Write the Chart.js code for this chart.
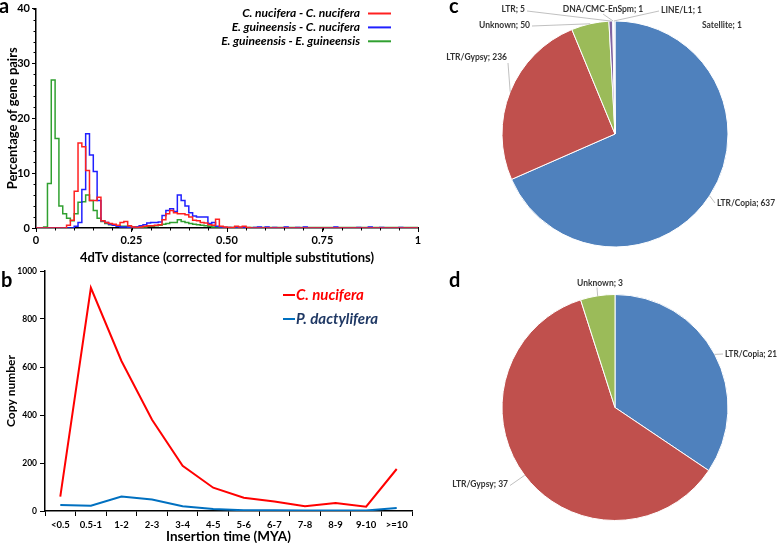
<!DOCTYPE html>
<html><head><meta charset="utf-8">
<script src="https://cdn.jsdelivr.net/npm/chart.js@4.4.1/dist/chart.umd.min.js"></script>
<style>
html,body{margin:0;padding:0;background:#fff;}
body{width:778px;height:543px;position:relative;overflow:hidden;font-family:Lato,'DejaVu Sans',sans-serif;}
canvas{position:absolute;}
.lt{position:absolute;font:bold 20px/20px Lato,sans-serif;color:#000;}
</style></head><body>
<canvas id="chartA" width="430" height="268" style="left:0;top:0"></canvas>
<canvas id="chartB" width="420" height="283" style="left:0;top:262px"></canvas>
<canvas id="chartC" width="338" height="268" style="left:440px;top:0"></canvas>
<canvas id="chartD" width="338" height="269" style="left:440px;top:274px"></canvas>
<div class="lt" style="left:-1px;top:-5px">a</div>
<div class="lt" style="left:1px;top:269px">b</div>
<div class="lt" style="left:449px;top:-5px">c</div>
<div class="lt" style="left:449px;top:269px">d</div>
<script>
// ---------- Panel a: 4dTv distance histograms (bin width 0.01) ----------
const BIN_WIDTH = 0.01;
const histSeriesNames = ['C. nucifera - C. nucifera', 'E. guineensis - C. nucifera', 'E. guineensis - E. guineensis'];
const ccValues = [
  0,0,0,0,0,0,0,0,0.5,1.4,
  6.7,15.5,14.8,10.5,5.0,5.0,5.6,1.3,1.0,0.8,
  0.7,0.5,1.0,1.2,0.4,0.2,0.1,0.2,0.3,0.4,
  0.4,0.5,0.6,1.5,2.6,3.2,2.8,2.6,2.6,2.4,
  2.0,1.4,1.3,1.0,0.9,0.6,0.5,1.6,0.3,0.2,
  0.1,0.1,0.3,0.2,0.3,0.1,0,0,0,0,
  0,0,0,0,0,0,0,0,0,0,
  0,0,0,0,0,0,0,0,0,0,
  0,0,0,0,0,0,0,0,0,0,
  0,0,0,0,0,0,0,0,0,0];
const ecValues = [
  0,0,0,0,0,0,0,0,0,0,
  0.3,1.0,7.0,17.2,13.3,10.3,5.0,1.3,1.0,0.7,
  0.5,0.3,0.2,0.2,0.1,0.1,0.2,0.4,0.6,0.9,
  1.0,1.0,1.1,2.3,3.2,3.5,3.0,6.0,5.0,4.0,
  2.8,2.2,2.0,2.0,2.0,0.8,1.0,0.3,0.2,0.1,
  0.1,0,0.2,0,0.1,0,0,0.1,0.2,0,
  0.2,0,0.1,0,0,0.2,0,0,0.1,0,
  0.2,0,0,0,0,0,0,0,0.2,0,
  0,0,0,0,0.1,0,0,0.2,0,0,
  0.1,0,0,0,0,0.1,0,0,0,0];
const eeValues = [
  0,0,0.2,8.1,27,16.3,4.0,2.6,1.8,1.3,
  2.6,4.7,4.8,6.0,5.0,3.2,1.8,1.2,0.8,0.6,
  0.5,0.4,0.3,0.3,0.2,0.2,0.2,0.2,0.2,0.3,
  0.3,0.4,0.5,0.7,0.8,1.0,1.0,1.5,1.2,1.0,
  0.8,0.7,0.6,0.5,0.4,0.3,0.2,0.2,0.1,0.1,
  0.1,0.1,0.1,0.1,0.1,0.1,0.1,0.1,0.1,0.1,
  0.1,0.1,0.1,0.1,0.1,0.1,0.1,0.1,0.1,0.1,
  0.1,0.1,0.1,0.1,0.1,0.1,0.1,0.1,0.1,0.1,
  0.1,0.1,0.1,0.1,0.1,0.1,0.1,0.1,0.1,0.1,
  0.1,0.1,0.1,0.1,0.1,0.1,0.1,0.1,0.1,0.1];
const histXTicks = [0, 0.25, 0.5, 0.75, 1];
const histXTickLabels = ['0', '0.25', '0.50', '0.75', '1'];
const histYTicks = [0, 10, 20, 30, 40];

// ---------- Panel b: insertion time ----------
const insertionCategories = ['<0.5','0.5-1','1-2','2-3','3-4','4-5','5-6','6-7','7-8','8-9','9-10','>=10'];
const cNuciferaCopies = [60,930,625,380,188,97,55,40,20,33,18,175];
const pDactyliferaCopies = [25,22,60,48,20,8,3,3,2,2,2,12];
const copyTicks = [0, 200, 400, 600, 800, 1000];

// ---------- Panels c, d: pies ----------
const pieCLabels = ['LTR/Copia','LTR/Gypsy','Unknown','LTR','DNA/CMC-EnSpm','LINE/L1','Satellite'];
const pieCValues = [637,236,50,5,1,1,1];
const pieDLabels = ['LTR/Copia','LTR/Gypsy','Unknown'];
const pieDValues = [21,37,3];

// ---------- styling ----------
Chart.defaults.font.family = 'Lato';
Chart.defaults.color = '#000';
const histColors = ['#FF2020', '#2020FF', '#30A030'];
const pieColors = ['#4F81BD','#C0504D','#9BBB59','#8064A2','#4BACC6','#F79646','#2C4D75'];

function toSteps(values){
  const pts = values.map((v,i)=>({x: i*BIN_WIDTH, y: v}));
  pts.push({x: 1, y: values[values.length-1]});
  return pts;
}

const minorTicksA = {
  id:'minorTicksA',
  afterDraw(chart){
    const {ctx, scales:{x,y}, chartArea:a} = chart;
    ctx.save(); ctx.strokeStyle='#000'; ctx.lineWidth=1;
    for(let k=0;k<=20;k++){
      const px = Math.round(x.getPixelForValue(k*0.05))+0.5;
      ctx.beginPath(); ctx.moveTo(px,a.bottom); ctx.lineTo(px,a.bottom+2.5); ctx.stroke();
    }
    for(let k=0;k<=20;k++){
      const py = Math.round(y.getPixelForValue(k*2))+0.5;
      ctx.beginPath(); ctx.moveTo(a.left,py); ctx.lineTo(a.left-2.5,py); ctx.stroke();
    }
    ctx.restore();
  }
};
const legendA = {
  id:'legendA',
  afterDraw(chart){
    const ctx = chart.ctx;
    ctx.save();
    ctx.font = 'italic bold 12px Lato'; ctx.textAlign='right'; ctx.textBaseline='middle';
    const widths = [127, 139, 152];
    chart.data.datasets.forEach((ds,i)=>{
      const yy = 13.5 + i*13.9;
      ctx.fillStyle = '#000';
      ctx.fillText(ds.label, 360, yy, widths[i]);
      ctx.strokeStyle = ds.borderColor; ctx.lineWidth = 2;
      ctx.beginPath(); ctx.moveTo(368, yy); ctx.lineTo(391, yy); ctx.stroke();
    });
    ctx.restore();
  }
};

new Chart(document.getElementById('chartA'), {
  type:'line',
  data:{ datasets:[ccValues, ecValues, eeValues].map((vals,i)=>({
    label: histSeriesNames[i], data: toSteps(vals), borderColor: histColors[i],
    borderWidth:1.5, stepped:'before', pointRadius:0, fill:false
  })) },
  options:{
    responsive:false, animation:false,
    layout:{padding:{top:4,right:12,left:0,bottom:2}},
    plugins:{legend:{display:false}, tooltip:{enabled:false}},
    scales:{
      x:{type:'linear', min:0, max:1,
        afterBuildTicks(s){ s.ticks = histXTicks.map(v=>({value:v})); },
        ticks:{callback:(v,i)=>histXTickLabels[i], font:{size:11,weight:'bold'}, color:'#000', maxRotation:0, padding:2},
        grid:{drawOnChartArea:false, tickLength:4, color:'#000', tickColor:'#000'},
        border:{color:'#000', width:1.5},
        title:{display:true, text:'4dTv distance (corrected for multiple substitutions)', font:{size:13,weight:'bold'}, color:'#000', padding:{top:0,bottom:0}},
        afterFit(s){ s.height = 38; }
      },
      y:{min:0, max:40,
        afterBuildTicks(s){ s.ticks = histYTicks.map(v=>({value:v})); },
        ticks:{font:{size:11,weight:'bold'}, color:'#000', padding:2},
        grid:{drawOnChartArea:false, tickLength:4, color:'#000', tickColor:'#000'},
        border:{color:'#000', width:1.5},
        title:{display:true, text:'Percentage of gene pairs', font:{size:13,weight:'bold'}, color:'#000', padding:{top:5,bottom:0}},
        afterFit(s){ s.width = 36; }
      }
    }
  },
  plugins:[minorTicksA, legendA]
});

// ---------- Panel b ----------
const legendB = {
  id:'legendB',
  afterDraw(chart){
    const ctx = chart.ctx;
    ctx.save();
    ctx.font = 'italic bold 15px Lato'; ctx.textAlign='left'; ctx.textBaseline='middle';
    const textColors = ['#FF0000', '#1F3864'];
    const widths = [72, 90];
    chart.data.datasets.forEach((ds,i)=>{
      const yy = 33 + i*24;
      ctx.strokeStyle = ds.borderColor; ctx.lineWidth = 2;
      ctx.beginPath(); ctx.moveTo(283, yy); ctx.lineTo(295, yy); ctx.stroke();
      ctx.fillStyle = textColors[i];
      ctx.fillText(ds.label, 296, yy, widths[i]);
    });
    ctx.restore();
  }
};
new Chart(document.getElementById('chartB'), {
  type:'line',
  data:{ labels: insertionCategories, datasets:[
    {label:'C. nucifera', data:cNuciferaCopies, borderColor:'#FF0000', borderWidth:2, pointRadius:0, tension:0},
    {label:'P. dactylifera', data:pDactyliferaCopies, borderColor:'#0070C0', borderWidth:2, pointRadius:0, tension:0}
  ]},
  options:{
    responsive:false, animation:false,
    layout:{padding:{top:9,right:8,left:0,bottom:0}},
    plugins:{legend:{display:false}, tooltip:{enabled:false}},
    scales:{
      x:{offset:true,
        ticks:{font:{size:9.5,weight:'bold'}, color:'#000', maxRotation:0, autoSkip:false, padding:3},
        grid:{offset:true, drawOnChartArea:false, tickLength:5, color:'#000', tickColor:'#000'},
        border:{color:'#000', width:1.5},
        title:{display:true, text:'Insertion time (MYA)', font:{size:13.5,weight:'bold'}, color:'#000', padding:{top:0,bottom:0}},
        afterFit(s){ s.height = 34; }
      },
      y:{min:0, max:1000,
        afterBuildTicks(s){ s.ticks = copyTicks.map(v=>({value:v})); },
        ticks:{callback:(v)=>String(v), font:{size:8.5,weight:'bold'}, color:'#000', padding:3},
        grid:{drawOnChartArea:false, tickLength:5, color:'#000', tickColor:'#000'},
        border:{color:'#000', width:1.5},
        title:{display:true, text:'Copy number', font:{size:12,weight:'bold'}, color:'#000', padding:{top:4,bottom:0}},
        afterFit(s){ s.width = 45; }
      }
    }
  },
  plugins:[legendB]
});

// ---------- Pies ----------
function pieLabelPlugin(layout){
  return {
    id:'pieLabels',
    afterDatasetsDraw(chart){
      const ctx = chart.ctx; const meta = chart.getDatasetMeta(0);
      ctx.save();
      ctx.font = 'bold 8.5px Lato'; ctx.fillStyle = '#333333'; ctx.textBaseline = 'middle';
      meta.data.forEach((arc,i)=>{
        const L = layout[i]; if(!L) return;
        const p = arc.getProps(['x','y','startAngle','endAngle','outerRadius'], true);
        const mid = (p.startAngle + p.endAngle)/2;
        if(L.lx !== undefined){
          ctx.strokeStyle = '#B0B0B0'; ctx.lineWidth = 0.8;
          ctx.beginPath();
          ctx.moveTo(p.x + p.outerRadius*Math.cos(mid), p.y + p.outerRadius*Math.sin(mid));
          ctx.lineTo(p.x + L.lx, p.y + L.ly); ctx.stroke();
        }
        ctx.textAlign = L.align;
        const txt = chart.data.labels[i] + '; ' + chart.data.datasets[0].data[i];
        if (L.w) ctx.fillText(txt, p.x + L.tx, p.y + L.ty, L.w);
        else ctx.fillText(txt, p.x + L.tx, p.y + L.ty);
      });
      ctx.restore();
    }
  };
}
const pieCLayout = [
  {tx:102, ty:69, align:'left', lx:100, ly:69, w:58},
  {tx:-108, ty:-77, align:'right', lx:-107, ly:-71},
  {tx:-85, ty:-109, align:'right', lx:-83, ly:-108},
  {tx:-90, ty:-125, align:'right', lx:-88, ly:-123},
  {tx:-12, ty:-125, align:'center', lx:-12, ly:-120},
  {tx:46, ty:-124, align:'left', lx:44, ly:-123},
  {tx:87, ty:-109, align:'left'}
];
const pieDLayout = [
  {tx:110, ty:-53.5, align:'left', lx:108, ly:-53.5, w:52},
  {tx:-107, ty:76.5, align:'right', lx:-105, ly:78},
  {tx:-15, ty:-124, align:'center', lx:-18, ly:-120}
];
function pieConfig(labels, values, layout, padBottom){
  return {
    type:'pie',
    data:{labels, datasets:[{data:values, backgroundColor:pieColors.slice(0,values.length), borderColor:'#FFFFFF', borderWidth:1, radius:113}]},
    options:{responsive:false, animation:false,
      layout:{padding:{left:12,right:0,top:0,bottom:padBottom}},
      plugins:{legend:{display:false}, tooltip:{enabled:false}}},
    plugins:[pieLabelPlugin(layout)]
  };
}
new Chart(document.getElementById('chartC'), pieConfig(pieCLabels, pieCValues, pieCLayout, 0));
new Chart(document.getElementById('chartD'), pieConfig(pieDLabels, pieDValues, pieDLayout, 2));
</script>
</body></html>
